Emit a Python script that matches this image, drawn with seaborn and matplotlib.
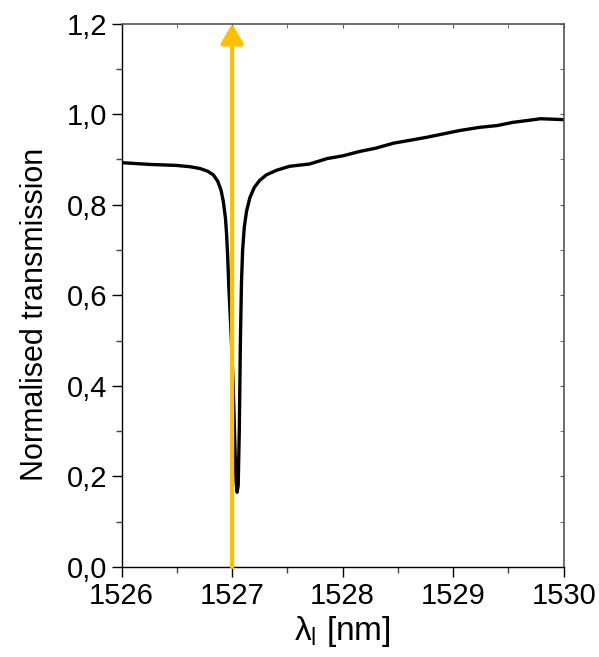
import matplotlib
matplotlib.use("Agg")
import matplotlib.pyplot as plt
import matplotlib.ticker as mticker
import seaborn as sns
import pandas as pd

# ---- data ----
wavelength_nm = [1526.00, 1526.26, 1526.49, 1526.62, 1526.71, 1526.78, 1526.83,
                 1526.87, 1526.90, 1526.92, 1526.94, 1526.95, 1526.96, 1526.97,
                 1526.99, 1527.01, 1527.025, 1527.035, 1527.045, 1527.055,
                 1527.065, 1527.075, 1527.085, 1527.095, 1527.11, 1527.13,
                 1527.16, 1527.20, 1527.25, 1527.31, 1527.40, 1527.52, 1527.70,
                 1527.86, 1528.00, 1528.16, 1528.30, 1528.46, 1528.60, 1528.76,
                 1528.94, 1529.06, 1529.24, 1529.40, 1529.54, 1529.70, 1529.79,
                 1529.90, 1530.00]
transmission = [0.893, 0.889, 0.887, 0.884, 0.880, 0.874, 0.866,
                0.852, 0.832, 0.808, 0.770, 0.735, 0.685, 0.620,
                0.520, 0.400, 0.270, 0.190, 0.165, 0.180,
                0.300, 0.500, 0.630, 0.700, 0.750, 0.785,
                0.815, 0.838, 0.854, 0.866, 0.876, 0.885, 0.890,
                0.902, 0.908, 0.918, 0.925, 0.936, 0.942, 0.949,
                0.958, 0.964, 0.971, 0.975, 0.982, 0.987, 0.990,
                0.989, 0.988]
marker_wavelength = 1527.0
x_ticks = [1526, 1527, 1528, 1529, 1530]
y_ticks = [0.0, 0.2, 0.4, 0.6, 0.8, 1.0, 1.2]

df = pd.DataFrame({"wl": wavelength_nm, "T": transmission})

sns.set_style("ticks")
plt.rcParams["font.family"] = ["Liberation Sans", "DejaVu Sans"]
plt.rcParams["mathtext.fontset"] = "custom"
plt.rcParams["mathtext.rm"] = "Liberation Sans"
plt.rcParams["mathtext.it"] = "Liberation Sans"
plt.rcParams["axes.labelcolor"] = "black"
plt.rcParams["text.color"] = "black"

fig = plt.figure(figsize=(5.99, 6.57), dpi=100)
ax = fig.add_axes([0.203, 0.137, 0.738, 0.827])

sns.lineplot(data=df, x="wl", y="T", ax=ax, color="black", lw=2.4, sort=False)

ax.annotate("", xy=(marker_wavelength, 1.2), xytext=(marker_wavelength, 0.0),
            arrowprops=dict(arrowstyle="-|>,head_length=0.6,head_width=0.35",
                            color="#FFC000", lw=3, mutation_scale=20,
                            shrinkA=0, shrinkB=0),
            annotation_clip=False, zorder=5)

ax.set_xlim(1526, 1530)
ax.set_ylim(0, 1.2)
ax.set_xticks(x_ticks)
ax.set_yticks(y_ticks)
ax.xaxis.set_minor_locator(mticker.MultipleLocator(0.5))
ax.yaxis.set_minor_locator(mticker.MultipleLocator(0.1))
ax.yaxis.set_major_formatter(mticker.FuncFormatter(lambda v, p: f"{v:.1f}".replace(".", ",")))
ax.xaxis.set_major_formatter(mticker.FuncFormatter(lambda v, p: f"{v:.0f}"))

ax.tick_params(axis="both", which="major", direction="out", length=7, width=1,
               labelsize=21, colors="black")
ax.tick_params(axis="both", which="minor", direction="out", length=4, width=1,
               color="#444444")

for s in ["left", "bottom"]:
    ax.spines[s].set_color("black")
    ax.spines[s].set_linewidth(1.0)
for s in ["top", "right"]:
    ax.spines[s].set_visible(True)
    ax.spines[s].set_color("#555555")
    ax.spines[s].set_linewidth(1.2)

top = ax.secondary_xaxis("top")
top.set_xticks(x_ticks)
top.xaxis.set_minor_locator(mticker.MultipleLocator(0.5))
top.tick_params(which="both", direction="in", length=3, labeltop=False, color="#555555")
top.spines["top"].set_visible(False)
right = ax.secondary_yaxis("right")
right.set_yticks(y_ticks)
right.yaxis.set_minor_locator(mticker.MultipleLocator(0.1))
right.tick_params(which="both", direction="in", length=3, labelright=False, color="#555555")
right.spines["right"].set_visible(False)

ax.set_xlabel(r"$\lambda_{\mathrm{l}}$ [nm]", fontsize=24, labelpad=3)
ax.set_ylabel("Normalised transmission", fontsize=22)
ax.yaxis.set_label_coords(-0.162, 0.465)

fig.savefig("out.png", dpi=100)
